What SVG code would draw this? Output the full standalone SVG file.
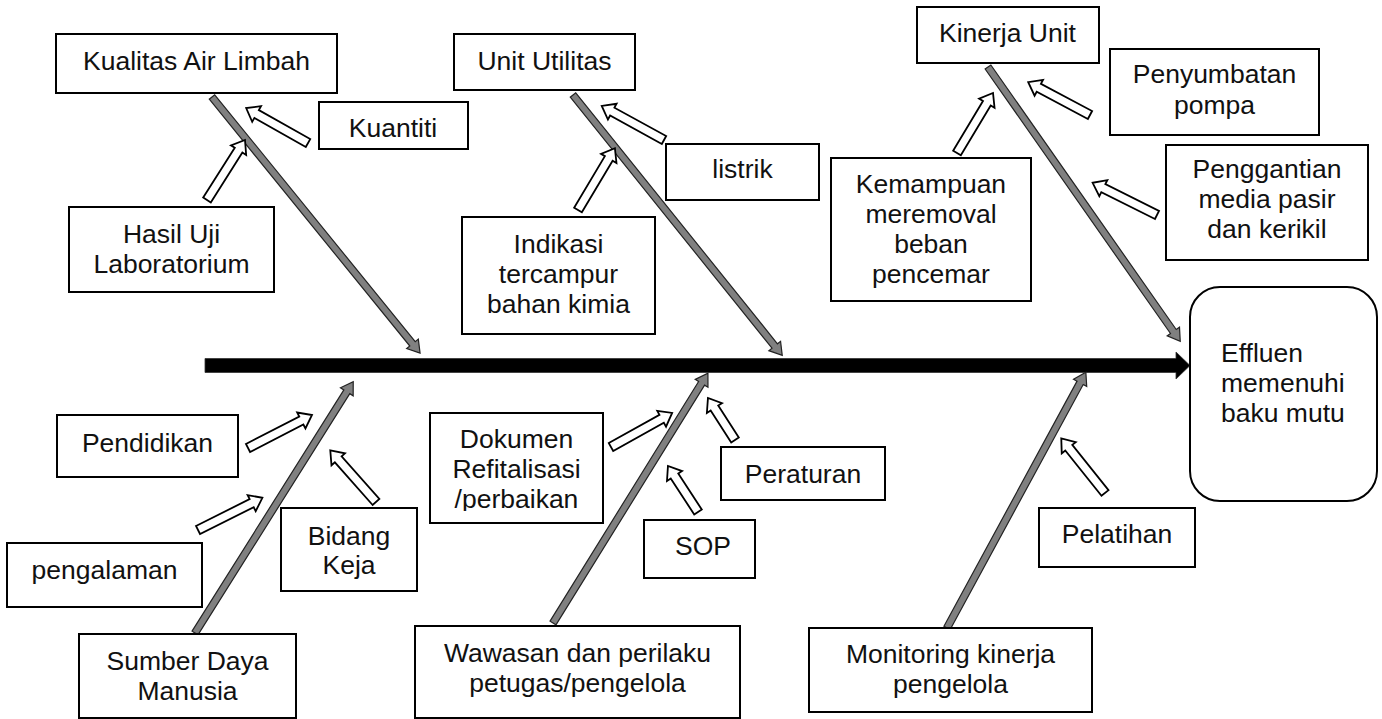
<svg xmlns="http://www.w3.org/2000/svg" width="1382" height="719" viewBox="0 0 1382 719">
<style>
.box{fill:#fff;stroke:#000;stroke-width:2}
.t{font-family:"Liberation Sans",Arial,sans-serif;font-size:26.5px;fill:#111;text-anchor:middle}
.ts{font-family:"Liberation Sans",Arial,sans-serif;font-size:26.5px;fill:#111;text-anchor:start}
.bone{fill:#808080;stroke:#222;stroke-width:1.2;stroke-linejoin:miter}
.ha{fill:#fff;stroke:#000;stroke-width:1.8;stroke-linejoin:miter}
</style>
<defs>
<clipPath id="clipDok"><rect x="430" y="413" width="173" height="98"/></clipPath>
</defs>
<rect width="1382" height="719" fill="#fff"/>

<g id="connectors">
  <!-- main spine -->
  <path d="M205,358.5 H1176 V352 L1190,365.5 L1176,379 V372.5 H205 Z" fill="#000" stroke="#333" stroke-width="0.8"/>
  <!-- grey bones -->
  <path class="bone" transform="translate(212,97) rotate(50.91)" d="M0,-3.5 H318 V-7.5 L330,0 L318,7.5 V3.5 H0 Z"/>
  <path class="bone" transform="translate(573,95) rotate(51.21)" d="M0,-3.5 H322 V-7.5 L334,0 L322,7.5 V3.5 H0 Z"/>
  <path class="bone" transform="translate(988,67) rotate(54.98)" d="M0,-3.5 H323 V-7.5 L335,0 L323,7.5 V3.5 H0 Z"/>
  <path class="bone" transform="translate(195,633) rotate(-57.81)" d="M0,-3.5 H285 V-7.5 L297,0 L285,7.5 V3.5 H0 Z"/>
  <path class="bone" transform="translate(553,623) rotate(-58.2)" d="M0,-3.5 H282 V-7.5 L294,0 L282,7.5 V3.5 H0 Z"/>
  <path class="bone" transform="translate(947,628) rotate(-61.5)" d="M0,-3.5 H279 V-7.5 L291,0 L279,7.5 V3.5 H0 Z"/>
  <!-- hollow arrows -->
  <path class="ha" transform="translate(308,143) rotate(209.44)" d="M0,-4.5 H59 V-9 L71,0 L59,9 V4.5 H0 Z"/>
  <path class="ha" transform="translate(207,200) rotate(-57.65)" d="M0,-4.5 H59 V-9 L71,0 L59,9 V4.5 H0 Z"/>
  <path class="ha" transform="translate(664,140) rotate(208.74)" d="M0,-4.5 H59 V-9 L71,0 L59,9 V4.5 H0 Z"/>
  <path class="ha" transform="translate(578,210) rotate(-59.17)" d="M0,-4.5 H60 V-9 L72,0 L60,9 V4.5 H0 Z"/>
  <path class="ha" transform="translate(957,153) rotate(-59.04)" d="M0,-4.5 H58 V-9 L70,0 L58,9 V4.5 H0 Z"/>
  <path class="ha" transform="translate(1090,115) rotate(208.02)" d="M0,-4.5 H58 V-9 L70,0 L58,9 V4.5 H0 Z"/>
  <path class="ha" transform="translate(1157,215) rotate(206.57)" d="M0,-4.5 H60 V-9 L72,0 L60,9 V4.5 H0 Z"/>
  <path class="ha" transform="translate(248,448) rotate(-27.28)" d="M0,-4.5 H60 V-9 L72,0 L60,9 V4.5 H0 Z"/>
  <path class="ha" transform="translate(198,530) rotate(-26.57)" d="M0,-4.5 H60 V-9 L72,0 L60,9 V4.5 H0 Z"/>
  <path class="ha" transform="translate(376,502) rotate(228.5)" d="M0,-4.5 H57 V-9 L69,0 L57,9 V4.5 H0 Z"/>
  <path class="ha" transform="translate(611,447) rotate(-29.14)" d="M0,-4.5 H58 V-9 L70,0 L58,9 V4.5 H0 Z"/>
  <path class="ha" transform="translate(735,440) rotate(237.26)" d="M0,-4.5 H38 V-9 L50,0 L38,9 V4.5 H0 Z"/>
  <path class="ha" transform="translate(698,512) rotate(236.89)" d="M0,-4.5 H43 V-9 L55,0 L43,9 V4.5 H0 Z"/>
  <path class="ha" transform="translate(1105,493) rotate(231.34)" d="M0,-4.5 H58 V-9 L70,0 L58,9 V4.5 H0 Z"/>
</g>

<g id="kualitas"><rect class="box" x="56" y="34" width="281" height="59"/><text class="t" x="196.5" y="70">Kualitas Air Limbah</text></g>
<g id="kuantiti"><rect class="box" x="319" y="102" width="149" height="47"/><text class="t" x="393" y="137">Kuantiti</text></g>
<g id="hasiluji"><rect class="box" x="69" y="207" width="205" height="85"/><text class="t" x="171.5" y="243">Hasil Uji</text><text class="t" x="171.5" y="273">Laboratorium</text></g>
<g id="unitutilitas"><rect class="box" x="454" y="34" width="181" height="56"/><text class="t" x="544.5" y="70">Unit Utilitas</text></g>
<g id="listrik"><rect class="box" x="666" y="144" width="153" height="56"/><text class="t" x="742.5" y="178">listrik</text></g>
<g id="indikasi"><rect class="box" x="462" y="217" width="193" height="117"/><text class="t" x="558.5" y="253">Indikasi</text><text class="t" x="558.5" y="283">tercampur</text><text class="t" x="558.5" y="313">bahan kimia</text></g>
<g id="kinerja"><rect class="box" x="917" y="7" width="182" height="56"/><text class="t" x="1007.5" y="42">Kinerja Unit</text></g>
<g id="penyumbatan"><rect class="box" x="1110" y="49" width="209" height="86"/><text class="t" x="1214.5" y="83">Penyumbatan</text><text class="t" x="1214.5" y="114">pompa</text></g>
<g id="penggantian"><rect class="box" x="1166" y="145" width="202" height="115"/><text class="t" x="1267" y="178">Penggantian</text><text class="t" x="1267" y="208">media pasir</text><text class="t" x="1267" y="238">dan kerikil</text></g>
<g id="kemampuan"><rect class="box" x="831" y="158" width="200" height="143"/><text class="t" x="931" y="193">Kemampuan</text><text class="t" x="931" y="223">meremoval</text><text class="t" x="931" y="253">beban</text><text class="t" x="931" y="283">pencemar</text></g>
<g id="pendidikan"><rect class="box" x="57" y="415" width="181" height="62"/><text class="t" x="147.5" y="452">Pendidikan</text></g>
<g id="pengalaman"><rect class="box" x="7" y="543" width="195" height="64"/><text class="t" x="104.5" y="579">pengalaman</text></g>
<g id="bidangkeja"><rect class="box" x="281" y="508" width="136" height="83"/><text class="t" x="349" y="545">Bidang</text><text class="t" x="349" y="574">Keja</text></g>
<g id="sdm"><rect class="box" x="79" y="634" width="217" height="84"/><text class="t" x="187.5" y="670">Sumber Daya</text><text class="t" x="187.5" y="700">Manusia</text></g>
<g id="dokumen"><rect class="box" x="430" y="413" width="173" height="110"/><g clip-path="url(#clipDok)"><text class="t" x="516.5" y="448">Dokumen</text><text class="t" x="516.5" y="478">Refitalisasi</text><text class="t" x="516.5" y="508">/perbaikan</text></g></g>
<g id="peraturan"><rect class="box" x="721" y="447" width="164" height="53"/><text class="t" x="803" y="483">Peraturan</text></g>
<g id="sop"><rect class="box" x="644" y="520" width="111" height="58"/><text class="t" x="703" y="555">SOP</text></g>
<g id="wawasan"><rect class="box" x="415" y="626" width="325" height="92"/><text class="t" x="577.5" y="662">Wawasan dan perilaku</text><text class="t" x="577.5" y="692">petugas/pengelola</text></g>
<g id="monitoring"><rect class="box" x="809" y="628" width="283" height="84"/><text class="t" x="950.5" y="663">Monitoring kinerja</text><text class="t" x="950.5" y="693">pengelola</text></g>
<g id="pelatihan"><rect class="box" x="1039" y="508" width="156" height="59"/><text class="t" x="1117" y="543">Pelatihan</text></g>
<g id="effluen"><rect class="box" x="1190" y="287" width="187" height="214" rx="30" ry="30"/><text class="ts" x="1221" y="362">Effluen</text><text class="ts" x="1221" y="392">memenuhi</text><text class="ts" x="1221" y="422">baku mutu</text></g>
</svg>
